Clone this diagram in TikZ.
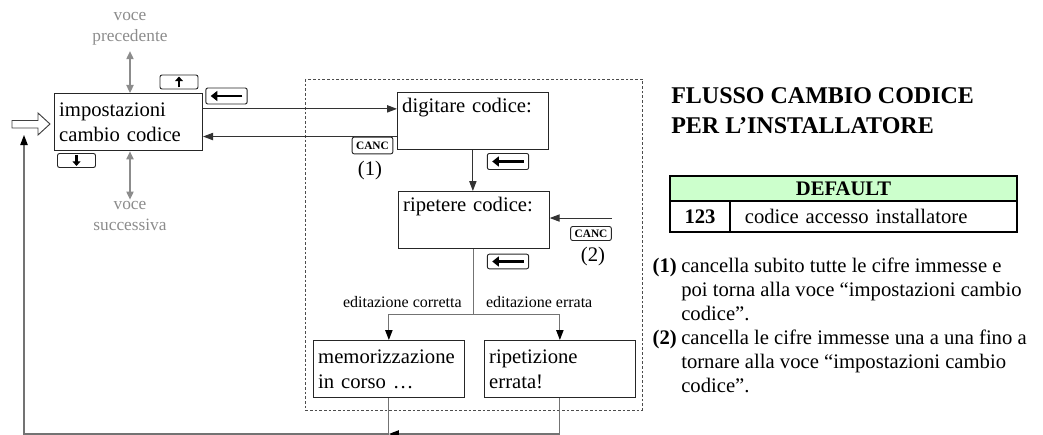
\documentclass[tikz,border=0pt]{standalone}
\usepackage{fontspec}
\setmainfont{Liberation Serif}
\usetikzlibrary{arrows.meta,positioning}
\definecolor{tabgreen}{RGB}{204,255,204}

\begin{document}
\begin{tikzpicture}[x=0.75pt, y=-0.75pt,
    screen/.style={rectangle, draw=black!85, line width=0.8pt, anchor=north west, align=left, text width=106pt, minimum height=43pt, inner xsep=3.5pt, font=\fontsize{15.5}{18.6}\selectfont},
    key/.style={rectangle, draw=black!85, rounded corners=1.5pt, line width=0.7pt, inner sep=0pt, minimum width=28.5pt, minimum height=10.5pt},
    bkey/.style={key, minimum width=31pt, minimum height=12pt},
    canc/.style={key, minimum width=30.5pt, minimum height=12.5pt, font=\fontsize{8.5}{9}\selectfont\bfseries},
    keyarrow/.style={line width=2.2pt, -{Triangle[length=5pt,width=7.5pt]}},
    keysmall/.style={line width=1.8pt, -{Triangle[length=3.5pt,width=6pt]}},
    arr/.style={draw=black!80, line width=0.75pt, -{Triangle[length=7.5pt,width=5.5pt]}},
    back/.style={draw=black!55, line width=0.9pt, -{Triangle[length=7.5pt,width=5.5pt,color=black]}},
    greyarr/.style={draw=black!45, line width=0.8pt, {Triangle[length=6pt,width=5.5pt]}-{Triangle[length=6pt,width=5.5pt]}},
    grey/.style={text=black!45, align=center, inner sep=1pt, font=\fontsize{13}{16}\selectfont},
    lbl/.style={inner sep=0pt, font=\fontsize{12}{14}\selectfont},
    note/.style={align=left, inner sep=0pt, font=\fontsize{15.5}{18}\selectfont},
    cell/.style={draw, line width=1.5pt, anchor=north west, inner sep=0pt, font=\fontsize{15.5}{18}\selectfont}
]

\useasboundingbox (0,0) rectangle (1043,435);

% dashed frame round the code entry
\draw[black!70, line width=0.6pt, dash pattern=on 2pt off 1.5pt] (305,79) rectangle (642,410);

% screens
\node[screen, text width=104pt] (imp) at (54,93) {impostazioni\\cambio codice};
\node[screen] (dig) at (397,92) {digitare codice:\\\strut};
\node[screen] (rip) at (398,191) {ripetere codice:\\\strut};
\node[screen] (mem) at (313,340) {memorizzazione\\in corso …};
\node[screen] (err) at (484,340) {ripetizione\\errata!};

% entry arrow
\draw[black!75, line width=0.7pt, fill=white] (12,120.5) -- (38,120.5) -- (38,113) -- (50,124) -- (38,135) -- (38,128) -- (12,128) -- cycle;
\coordinate (entry) at (24,135);

% previous / next item
\node[grey] (prev) at (130,29) {voce\\precedente};
\node[grey] (next) at (130,216) {voce\\successiva};
\draw[greyarr, shorten <=3pt] (prev.south) -- (prev.south |- imp.north);
\draw[greyarr] (next.north) -- (next.north |- imp.south);

% keys
\node[key] (kup) at (179,82) {};
\node[key] (kdn) at (76.5,160.5) {};
\node[bkey] (kb1) at (226.5,96) {};
\node[bkey] (kb2) at (508,161.5) {};
\node[bkey, minimum height=11pt] (kb3) at (508,261.5) {};
\node[canc] (canc1) at (372.5,145.5) {CANC};
\node[canc, minimum height=10.5pt] (canc2) at (591,233.5) {CANC};
\node[note] (m1) at (370,171) {(1)};
\node[note] (m2) at (593,257) {(2)};

\draw[keysmall] ([yshift=1.5pt]kup.south) -- ([yshift=-1.5pt]kup.north);
\draw[keysmall] ([yshift=-1.5pt]kdn.north) -- ([yshift=1.5pt]kdn.south);
\foreach \k in {kb1,kb2,kb3}
  \draw[keyarrow] ([xshift=-4pt]\k.east) -- ([xshift=4pt]\k.west);

% arrows
\coordinate (t1) at ([yshift=10pt]imp.east);
\draw[arr] (t1) -- (t1 -| dig.west);
\coordinate (t2) at ([yshift=-11.5pt]dig.west);
\draw[arr] (t2) -- (t2 -| imp.east);
\draw[arr] (dig.south) -- (dig.south |- rip.north);
\coordinate (t3) at ([yshift=6pt]canc2.north east);
\draw[arr] (t3) -- (t3 -| rip.east);

\coordinate (split) at ([yshift=-48.75pt]rip.south);
\draw[black!55, line width=0.9pt] (rip.south) -- (split);
\draw[back] (split) -| (mem.north);
\draw[back] (split) -| (err.north);
\node[lbl, anchor=base east] (okl) at ([xshift=-9pt, yshift=5pt]split) {editazione corretta};
\node[lbl, anchor=base west] (kol) at ([xshift=9pt, yshift=5pt]split) {editazione errata};

% return loop
\coordinate (lp) at (24,434);
\draw[back] (mem.south) |- (lp) -- (entry);
\draw[back] (err.south) |- (mem.south |- lp);

% title
\node[anchor=north west, align=left, inner sep=0pt, font=\fontsize{18}{22.5}\selectfont\bfseries] (title) at (671,87) {FLUSSO CAMBIO CODICE\\PER L’INSTALLATORE};

% default table
\node[cell, fill=tabgreen, minimum width=260.25pt, minimum height=18.75pt, font=\fontsize{15.5}{18}\selectfont\bfseries] (dflt) at (669,175) {DEFAULT};
\node[cell, minimum width=45pt, minimum height=23.25pt, font=\fontsize{15.5}{18}\selectfont\bfseries] (dval) at (669,200) {123};
\node[cell, minimum width=215.25pt, minimum height=23.25pt, text width=193pt, inner xsep=11pt, align=left] (ddesc) at (729,200) {codice accesso installatore};

% notes
\node[note, anchor=north west] (n1) at (681,258) {cancella subito tutte le cifre immesse e\\poi torna alla voce “impostazioni cambio\\codice”.};
\node[note, anchor=north east, font=\fontsize{15.5}{18}\selectfont\bfseries] (n1lab) at ([xshift=-3pt]n1.north west) {(1)};
\node[note, anchor=north west] (n2) at (681,330) {cancella le cifre immesse una a una fino a\\tornare alla voce “impostazioni cambio\\codice”.};
\node[note, anchor=north east, font=\fontsize{15.5}{18}\selectfont\bfseries] (n2lab) at ([xshift=-3pt]n2.north west) {(2)};

\end{tikzpicture}
\end{document}
